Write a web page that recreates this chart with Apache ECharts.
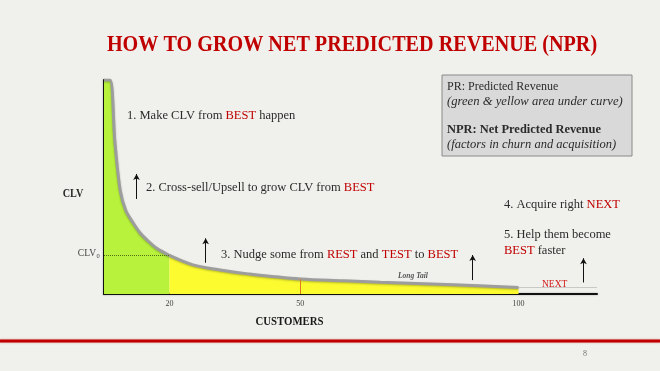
<!DOCTYPE html>
<html>
<head>
<meta charset="utf-8">
<script src="https://cdn.jsdelivr.net/npm/echarts@6/dist/echarts.min.js"></script>
<style>
html,body{margin:0;padding:0;background:#f0f0ec;}
#chart{width:660px;height:371px;}
</style>
</head>
<body>
<div id="chart"></div>
<script>
// ---- data ----
var customers = [5, 6.4, 7.5, 8.7, 10, 11.7, 13.3, 14.9, 17, 20, 25.4, 31.6, 38, 50, 60, 68.3, 85, 100];
var clv       = [100, 100, 71, 48.6, 39, 33.2, 28.5, 25.2, 21.5, 18, 13.6, 11.2, 9.4, 7, 6.2, 5.5, 4.3, 3];
var segmentEnds = [20, 50, 100];           // BEST | REST | TEST boundaries
var xTickLabels = [20, 50, 100];
var clv0 = 18;
var nextLevel = 3;
var arrowsX   = [12.45, 28.3, 89.5, 114.9];
var arrowsLow = [44.4, 14.6, 6.5, 5.4];
var arrowsHigh= [56.1, 26.0, 18.2, 16.7];

var RED = '#c00000';
var SERIF = '"Liberation Serif", "DejaVu Serif", serif';

function pts(filter) {
  var out = [];
  for (var i = 0; i < customers.length; i++) {
    if (filter(customers[i])) out.push([customers[i], clv[i]]);
  }
  return out;
}
var greenData = pts(function (x) { return x <= segmentEnds[0]; });
var yellowData = pts(function (x) { return x >= segmentEnds[0] && x <= segmentEnds[2]; });
var valAt50 = clv[customers.indexOf(segmentEnds[1])];

var arrowLines = arrowsX.map(function (x, i) {
  return [{ coord: [x, arrowsLow[i]] }, { coord: [x, arrowsHigh[i]] }];
});

function txt(x, y, text, size, opts) {
  opts = opts || {};
  var st = {
    text: text,
    font: (opts.style || '') + ' ' + (opts.weight || 'normal') + ' ' + size + 'px ' + SERIF,
    fill: opts.fill || '#2b2b2b',
    align: opts.align || 'left',
    verticalAlign: 'middle',
    textAlign: opts.align || 'left',
    textVerticalAlign: 'middle'
  };
  if (opts.rich) st.rich = opts.rich;
  var el = { type: 'text', x: x, y: y, style: st, silent: true };
  if (opts.scaleX) el.scaleX = opts.scaleX;
  return el;
}
var redRich = function (size) {
  return { r: { fill: RED, font: size + 'px ' + SERIF } };
};

var chart = echarts.init(document.getElementById('chart'), null, { renderer: 'canvas' });
var lineStyle = { color: '#9d9d9d', width: 3, shadowColor: 'rgba(0,0,0,0.25)', shadowBlur: 2, shadowOffsetY: 1 };
var BODY = 12.5;

chart.setOption({
  backgroundColor: '#f0f0ec',
  animation: false,
  grid: { left: 104, right: 63, top: 80, bottom: 77 },
  xAxis: {
    type: 'value', min: 5, max: 118,
    axisLine: { show: true, onZero: false, lineStyle: { color: '#111', width: 2, shadowColor: 'rgba(0,0,0,0.3)', shadowBlur: 2 } },
    axisTick: { show: false },
    splitLine: { show: false },
    axisLabel: { customValues: xTickLabels, fontSize: 8, color: '#444', fontFamily: SERIF, margin: 6 }
  },
  yAxis: {
    type: 'value', min: 0, max: 100,
    axisLine: { show: true, lineStyle: { color: '#111', width: 2, shadowColor: 'rgba(0,0,0,0.3)', shadowBlur: 2 } },
    axisTick: { show: false },
    splitLine: { show: false },
    axisLabel: { show: false }
  },
  series: [
    {
      type: 'line', data: greenData, smooth: 0.3, symbol: 'none', silent: true,
      lineStyle: lineStyle, areaStyle: { color: '#b8f23c', opacity: 1 },
      z: 2,
      markLine: {
        silent: true, symbol: 'none', label: { show: false },
        lineStyle: { color: '#4f6f14', type: 'dotted', width: 1 },
        data: [[{ coord: [5, clv0] }, { coord: [segmentEnds[0], clv0] }]]
      }
    },
    {
      type: 'line', data: yellowData, smooth: 0.35, symbol: 'none', silent: true,
      lineStyle: lineStyle, areaStyle: { color: '#fbfb30', opacity: 1 },
      z: 2,
      markLine: {
        silent: true, symbol: 'none', label: { show: false },
        data: [
          [{ coord: [segmentEnds[1], 0], lineStyle: { color: '#e07a20', width: 1, type: 'solid' } },
           { coord: [segmentEnds[1], valAt50] }],
          [{ coord: [segmentEnds[2], nextLevel], lineStyle: { color: '#a0a0a0', width: 1, type: 'dotted' } },
           { coord: [118, nextLevel] }]
        ]
      }
    },
    {
      type: 'line', data: [], silent: true,
      markLine: {
        silent: true, symbol: ['none', 'arrow'], symbolSize: [5, 6], label: { show: false },
        lineStyle: { color: '#111', width: 1, type: 'solid' },
        data: arrowLines
      }
    }
  ],
  graphic: [
    txt(352, 45, 'HOW TO GROW NET PREDICTED REVENUE (NPR)', 24, { weight: 'bold', fill: RED, align: 'center', scaleX: 0.84 }),
    { type: 'rect', shape: { x: 442, y: 75, width: 190, height: 81 }, style: { fill: '#d9d9d9', stroke: '#8a8a8a', lineWidth: 1 }, silent: true },
    txt(447, 87, 'PR: Predicted Revenue', 12),
    txt(447, 101.5, '(green & yellow area under curve)', 11.5, { style: 'italic', scaleX: 1.1 }),
    txt(447, 130.5, 'NPR: Net Predicted Revenue', 11.5, { weight: 'bold', scaleX: 1.08 }),
    txt(447, 145, '(factors in churn and acquisition)', 11.5, { style: 'italic', scaleX: 1.09 }),
    txt(127, 116, '1. Make CLV from {r|BEST} happen', BODY, { rich: redRich(BODY) }),
    txt(146, 187.5, '2. Cross-sell/Upsell to grow CLV from {r|BEST}', BODY, { rich: redRich(BODY) }),
    txt(221, 254.5, '3. Nudge some from {r|REST} and {r|TEST} to {r|BEST}', BODY, { rich: redRich(BODY) }),
    txt(504, 205, '4. Acquire right {r|NEXT}', BODY, { rich: redRich(BODY) }),
    txt(504, 234.5, '5. Help them become', BODY),
    txt(504, 250.5, '{r|BEST} faster', BODY, { rich: redRich(BODY) }),
    txt(73, 194, 'CLV', 12, { weight: 'bold', align: 'center', scaleX: 0.85 }),
    txt(96, 253.5, 'CLV', 9.5, { align: 'right', fill: '#444' }),
    txt(96.5, 256, '0', 6.5, { fill: '#444' }),
    txt(121, 279.5, 'BEST', 13.5, { fill: '#cc1010' }),
    txt(191, 282, 'REST', 10.5, { fill: '#d02a10' }),
    txt(331, 288.5, 'TEST', 8.5, { fill: '#d84a18' }),
    txt(398, 276, 'Long Tail', 7.5, { style: 'italic', weight: 'bold', fill: '#555' }),
    txt(542, 284.5, 'NEXT', 9.5, { fill: '#d01818' }),
    txt(289.5, 322, 'CUSTOMERS', 12, { weight: 'bold', align: 'center', scaleX: 0.9, fill: '#1a1a1a' }),
    { type: 'rect', shape: { x: 0, y: 339.5, width: 660, height: 3 }, style: { fill: '#c00000', shadowColor: 'rgba(200,0,0,0.4)', shadowBlur: 2 }, silent: true },
    txt(585, 354, '8', 8, { align: 'center', fill: '#777' })
  ]
});
</script>
</body>
</html>
